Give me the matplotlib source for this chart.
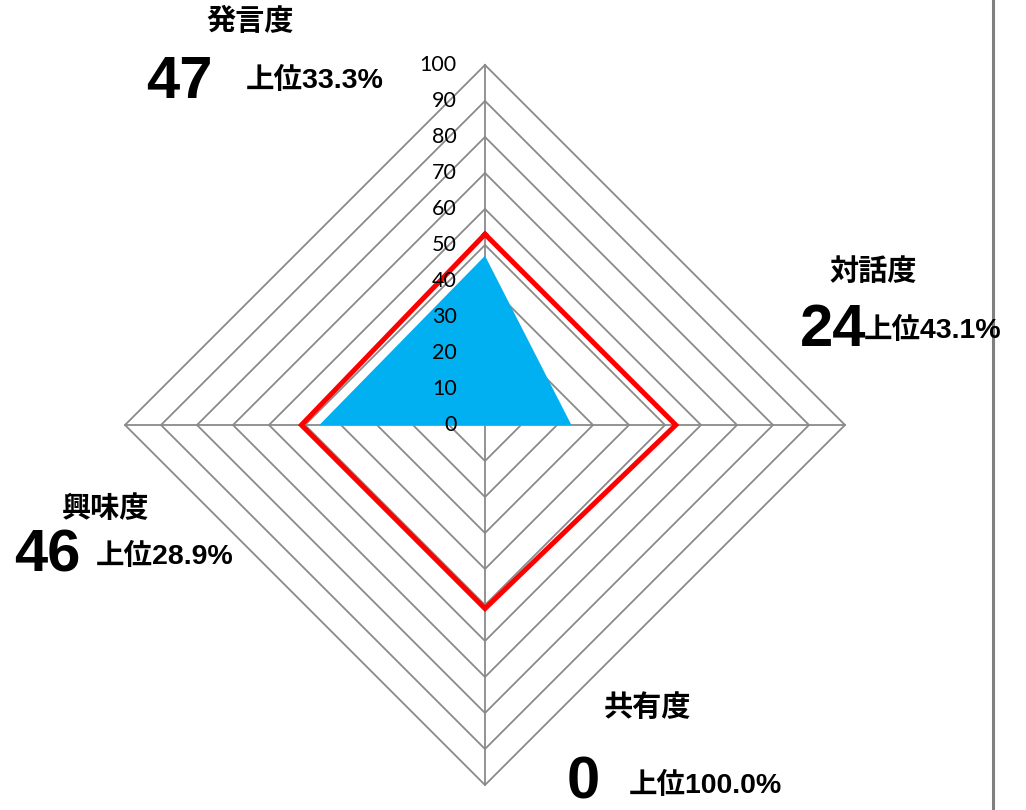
import numpy as np
import matplotlib
matplotlib.use("Agg")
import matplotlib.pyplot as plt
from matplotlib.lines import Line2D

# axes go clockwise from the top
categories = ["発言度", "対話度", "共有度", "興味度"]
scores = [47, 24, 0, 46]
average = [53, 53, 51, 51]
ranks = ["上位33.3%", "上位43.1%", "上位100.0%", "上位28.9%"]
levels = list(range(0, 101, 10))

JP = ["Liberation Sans", "Noto Sans CJK JP", "DejaVu Sans"]

W, H = 1026, 810
fig = plt.figure(figsize=(W / 100, H / 100), dpi=100)
ax = fig.add_axes([0, 0, 1, 1])
cx, cy, rad = 485, 425, 360  # pixels for centre and value 100
ax.set_xlim(-cx / rad * 100, (W - cx) / rad * 100)
ax.set_ylim(-(H - cy) / rad * 100, cy / rad * 100)
ax.axis("off")

ang = np.pi / 2 - np.arange(len(categories)) * np.pi / 2
cosa, sina = np.round(np.cos(ang), 9), np.round(np.sin(ang), 9)

grid_col = "#8a8a8a"
for lv in levels[1:]:
    gx = np.append(lv * cosa, lv * cosa[0])
    gy = np.append(lv * sina, lv * sina[0])
    ax.plot(gx, gy, color=grid_col, lw=1.3, zorder=1)
for c, s in zip(cosa, sina):
    ax.plot([0, 100 * c], [0, 100 * s], color=grid_col, lw=1.3, zorder=1)

sv = np.array(scores)
ax.fill(sv * cosa, sv * sina, color="#00B0F0", lw=0, zorder=2)

av = np.array(average)
ax.plot(np.append(av * cosa, av[0] * cosa[0]), np.append(av * sina, av[0] * sina[0]),
        color="#FF0000", lw=3.6, solid_joinstyle="miter", zorder=3)

for lv in levels:
    ax.text(-7.8, lv, str(lv), ha="right", va="center", fontsize=15.5,
            family=["Lato", "DejaVu Sans"], color="#000000", zorder=4)

# category labels, scores and ranks (pixel positions from the reference)
name_pos = [(250, 22), (873, 272), (647, 708), (105, 509)]
score_pos = [(179, 83), (833, 330), (583, 783), (47, 556)]
rank_pos = [(246, 80), (864, 330), (629, 785), (96, 556)]

def fx(x):
    return x / W

def fy(y):
    return 1 - y / H

for i in range(len(categories)):
    fig.text(fx(name_pos[i][0]), fy(name_pos[i][1]), categories[i], ha="center", va="center",
             fontsize=21, fontweight="bold", family=JP)
    fig.text(fx(score_pos[i][0]), fy(score_pos[i][1]), str(scores[i]), ha="center", va="center",
             fontsize=43, fontweight="bold", family=JP)
    fig.text(fx(rank_pos[i][0]), fy(rank_pos[i][1]), ranks[i], ha="left", va="center",
             fontsize=20.5, fontweight="bold", family=JP)

fig.add_artist(Line2D([fx(993), fx(993)], [0, 1], color="#808080", lw=2.2))

fig.savefig("out.png", dpi=100, facecolor="white")
